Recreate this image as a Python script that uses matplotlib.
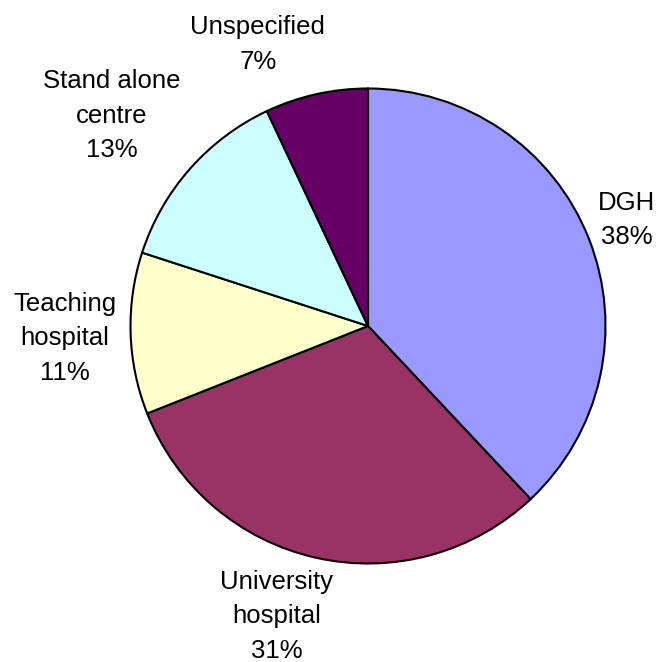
import matplotlib.pyplot as plt

# share of centres by type
labels = ["DGH", "University\nhospital", "Teaching\nhospital", "Stand alone\ncentre", "Unspecified"]
shares = [38, 31, 11, 13, 7]
colors = ["#9999FF", "#993366", "#FFFFCC", "#CCFFFF", "#660066"]

# label centres in pie units (radius = 1)
label_pos = [(1.089, 0.447), (-0.384, -1.222), (-1.278, -0.051), (-1.080, 0.886), (-0.464, 1.186)]

W, H = 656, 662
cx, cy, r = 368, 326, 237.5

fig = plt.figure(figsize=(W / 100, H / 100), dpi=100)
ax = fig.add_axes([(cx - r) / W, (H - cy - r) / H, 2 * r / W, 2 * r / H])

ax.pie(shares, colors=colors, startangle=90, counterclock=False, radius=1,
       wedgeprops=dict(edgecolor="black", linewidth=1.5))
ax.set_xlim(-1, 1)
ax.set_ylim(-1, 1)
ax.set_aspect("equal")
ax.axis("off")

for lab, val, (x, y) in zip(labels, shares, label_pos):
    ax.text(x, y, f"{lab}\n{val}%", ha="center", va="center",
            fontsize=18.5, family="Liberation Sans", linespacing=1.55, clip_on=False)

plt.savefig("out.png", dpi=100)
